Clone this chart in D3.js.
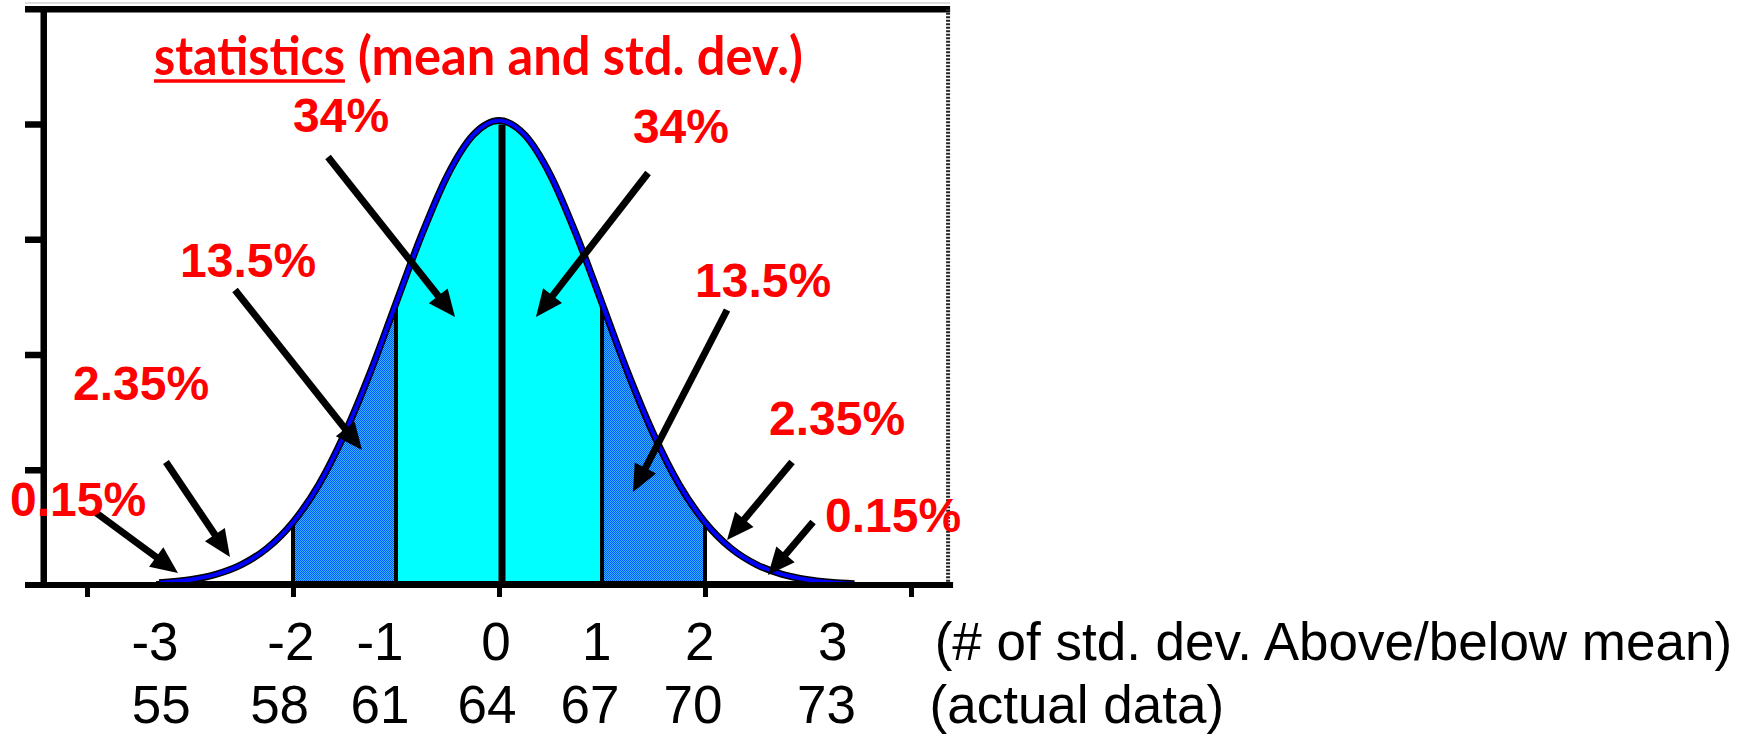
<!DOCTYPE html>
<html>
<head>
<meta charset="utf-8">
<script src="https://cdn.jsdelivr.net/npm/d3@7"></script>
<style>
	body { margin: 0; background: #fff; }
	svg { display: block; }
</style>
</head>
<body>
<div id="chart"></div>
<script>
(function () {
	// curve: x in std. dev. units, y = density
	let curveZ = [-3.3, -3, -2.75, -2.5, -2.25, -2, -1.75, -1.5, -1.25, -1, -0.75, -0.5, -0.25, 0,
		0.25, 0.5, 0.75, 1, 1.25, 1.5, 1.75, 2, 2.25, 2.5, 2.75, 3, 3.45];
	let curveDensity = [0.002, 0.0045, 0.0092, 0.0177, 0.032, 0.0545, 0.087, 0.131, 0.1845, 0.2445, 0.304, 0.3555, 0.3905, 0.403,
		0.3905, 0.3555, 0.304, 0.2445, 0.1845, 0.131, 0.087, 0.0545, 0.032, 0.0177, 0.0092, 0.0045, 0.001];

	let bandEdges = [-2, -1, 1, 2];
	let sdTicks = [-4, -2, 0, 2, 4];
	let densityTicks = [0.1, 0.2, 0.3, 0.4];

	let sdLabels = ["-3", "-2", "-1", "0", "1", "2", "3"];
	let dataLabels = ["55", "58", "61", "64", "67", "70", "73"];
	let pctLabels = ["34%", "34%", "13.5%", "13.5%", "2.35%", "2.35%", "0.15%", "0.15%"];
	let titleMain = "statistics";
	let titleRest = "(mean and std. dev.)";
	let sdAxisTitle = "(# of std. dev. Above/below mean)";
	let dataAxisTitle = "(actual data)";

	// annotation layout, in chart units (z, density)
	let layout = {};
	layout.sdLabelX = [-3.34, -2.02, -1.155, -0.03, 0.95, 1.95, 3.24];
	layout.dataLabelX = [-3.28, -2.13, -1.155, -0.117, 0.883, 1.883, 3.18];
	layout.pctPos = [[-2.0, 0.393], [1.30, 0.3835], [-3.097, 0.267], [1.903, 0.250],
		[-4.136, 0.1605], [2.621, 0.130], [-4.748, 0.0599], [3.165, 0.046]];
	layout.arrows = [
		[[-1.66, 0.3714], [-0.427, 0.2325]],
		[[1.447, 0.3575], [0.359, 0.2325]],
		[[-2.563, 0.256], [-1.33, 0.1171]],
		[[2.214, 0.2386], [1.301, 0.0807]],
		[[-3.233, 0.1067], [-2.612, 0.0243]],
		[[2.845, 0.1067], [2.214, 0.039]],
		[[-3.922, 0.0633], [-3.117, 0.0104]],
		[[3.049, 0.0547], [2.612, 0.0087]]
	];

	let W = 1754, H = 734;
	let svg = d3.select("#chart").append("svg").attr("width", W).attr("height", H);
	svg.append("rect").attr("width", W).attr("height", H).attr("fill", "#fff");

	let x = d3.scaleLinear().domain([-4, 4]).range([87, 911]);
	let y = d3.scaleLinear().domain([0, 0.4]).range([585, 124]);
	let frameL = x(-4.42), frameR = x(4.36), frameT = y(0.4995), base = y(0);

	let defs = svg.append("defs");
	let pat = defs.append("pattern").attr("id", "dots")
		.attr("width", 2).attr("height", 2).attr("patternUnits", "userSpaceOnUse");
	pat.append("rect").attr("width", 2).attr("height", 2).attr("fill", "#35b4ff");
	pat.append("rect").attr("x", 0).attr("y", 0).attr("width", 1).attr("height", 1).attr("fill", "#0058ff");
	pat.append("rect").attr("x", 1).attr("y", 1).attr("width", 1).attr("height", 1).attr("fill", "#0058ff");

	let pts = curveZ.map(function (z, i) { return { z: z, d: curveDensity[i] }; });

	let area = d3.area().curve(d3.curveMonotoneX)
		.x(function (p) { return x(p.z); })
		.y0(base)
		.y1(function (p) { return y(p.d); });
	let line = d3.line().curve(d3.curveMonotoneX)
		.x(function (p) { return x(p.z); })
		.y(function (p) { return y(p.d); });

	function inRange(a, b) {
		return pts.filter(function (p) { return p.z >= a - 1e-9 && p.z <= b + 1e-9; });
	}

	svg.append("path").attr("d", area(inRange(-2, -1))).attr("fill", "url(#dots)");
	svg.append("path").attr("d", area(inRange(1, 2))).attr("fill", "url(#dots)");
	svg.append("path").attr("d", area(inRange(-1, 1))).attr("fill", "#00ffff");

	// band edges
	svg.selectAll(".edge").data(bandEdges).enter().append("line")
		.attr("class", "edge")
		.attr("x1", function (z) { return x(z); })
		.attr("x2", function (z) { return x(z); })
		.attr("y1", base)
		.attr("y2", function (z) { return y(curveDensity[curveZ.indexOf(z)]); })
		.attr("stroke", "#000").attr("stroke-width", 4);

	svg.append("line")
		.attr("x1", x(0) + 3).attr("x2", x(0) + 3)
		.attr("y1", base).attr("y2", y(curveDensity[curveZ.indexOf(0)]) + 4)
		.attr("stroke", "#000").attr("stroke-width", 7);

	// flat tail along the baseline
	svg.append("line")
		.attr("x1", x(curveZ[0]) - 3).attr("x2", x(curveZ[curveZ.length - 1]))
		.attr("y1", base - 2).attr("y2", base - 2)
		.attr("stroke", "#000").attr("stroke-width", 4);

	svg.append("path").attr("d", line(pts)).attr("fill", "none")
		.attr("stroke", "#000").attr("stroke-width", 7).attr("stroke-linejoin", "round");
	svg.append("path").attr("d", line(pts)).attr("fill", "none")
		.attr("stroke", "#0000ff").attr("stroke-width", 4).attr("stroke-linejoin", "round");

	// frame
	svg.append("line").attr("x1", 25).attr("x2", frameR + 2)
		.attr("y1", 3).attr("y2", 3).attr("stroke", "#ddd").attr("stroke-width", 2);
	svg.append("line").attr("x1", 25).attr("x2", frameR + 2)
		.attr("y1", frameT).attr("y2", frameT).attr("stroke", "#000").attr("stroke-width", 6.5);
	svg.append("line").attr("x1", frameR).attr("x2", frameR)
		.attr("y1", frameT).attr("y2", base)
		.attr("stroke", "#222").attr("stroke-width", 4).attr("stroke-dasharray", "2,1.5");
	svg.append("line").attr("x1", frameL).attr("x2", frameL)
		.attr("y1", frameT - 3).attr("y2", base + 3).attr("stroke", "#000").attr("stroke-width", 6.5);
	svg.append("line").attr("x1", 25).attr("x2", frameR + 5)
		.attr("y1", base).attr("y2", base).attr("stroke", "#000").attr("stroke-width", 6);

	let yAxis = svg.append("g")
		.attr("transform", "translate(" + frameL + ",0)")
		.call(d3.axisLeft(y).tickValues(densityTicks).tickSize(frameL - 25).tickFormat(""));
	yAxis.select(".domain").remove();
	yAxis.selectAll("line").attr("stroke", "#000").attr("stroke-width", 6.5);

	let xAxis = svg.append("g")
		.attr("transform", "translate(0," + base + ")")
		.call(d3.axisBottom(x).tickValues(sdTicks).tickSize(12).tickFormat(""));
	xAxis.select(".domain").remove();
	xAxis.selectAll("line").attr("stroke", "#000").attr("stroke-width", 5);

	// arrows
	function drawArrow(a) {
		let x1 = x(a[0][0]), y1 = y(a[0][1]), x2 = x(a[1][0]), y2 = y(a[1][1]);
		let dx = x2 - x1, dy = y2 - y1, len = Math.sqrt(dx * dx + dy * dy);
		let ux = dx / len, uy = dy / len;
		let headLen = 27, headHalf = 12;
		let bx = x2 - ux * headLen, by = y2 - uy * headLen;
		svg.append("line")
			.attr("x1", x1).attr("y1", y1).attr("x2", bx + ux * 2).attr("y2", by + uy * 2)
			.attr("stroke", "#000").attr("stroke-width", 7);
		svg.append("polygon")
			.attr("points", [
				[x2, y2],
				[bx - uy * headHalf, by + ux * headHalf],
				[bx + uy * headHalf, by - ux * headHalf]
			].map(function (p) { return p.join(","); }).join(" "))
			.attr("fill", "#000");
	}
	for (let a of layout.arrows) {
		drawArrow(a);
	}

	// percent labels
	svg.selectAll(".pct").data(pctLabels).enter().append("text")
		.attr("class", "pct")
		.attr("x", function (d, i) { return x(layout.pctPos[i][0]); })
		.attr("y", function (d, i) { return y(layout.pctPos[i][1]); })
		.attr("font-family", "'Liberation Sans', Arial, sans-serif")
		.attr("font-weight", "bold")
		.attr("font-size", 48)
		.attr("fill", "#ff0000")
		.text(function (d) { return d; });

	// title
	let titleY = y(0.4425);
	svg.append("text")
		.attr("x", x(-3.35)).attr("y", titleY)
		.attr("font-family", "Lato, 'Open Sans', sans-serif")
		.attr("font-weight", "bold").attr("font-size", 53)
		.attr("fill", "#ff0000")
		.attr("textLength", 191).attr("lengthAdjust", "spacingAndGlyphs")
		.text(titleMain);
	svg.append("line")
		.attr("x1", x(-3.35)).attr("x2", x(-3.35) + 191)
		.attr("y1", titleY + 6).attr("y2", titleY + 6)
		.attr("stroke", "#ff0000").attr("stroke-width", 3.5);
	svg.append("text")
		.attr("x", x(-1.37)).attr("y", titleY)
		.attr("font-family", "Lato, 'Open Sans', sans-serif")
		.attr("font-weight", "bold").attr("font-size", 53)
		.attr("fill", "#ff0000")
		.attr("textLength", 445).attr("lengthAdjust", "spacingAndGlyphs")
		.text(titleRest);

	// bottom labels
	let row1 = 660, row2 = 723;
	let labelFont = "'Liberation Sans', Arial, sans-serif";
	svg.selectAll(".sdLab").data(sdLabels).enter().append("text")
		.attr("class", "sdLab")
		.attr("x", function (d, i) { return x(layout.sdLabelX[i]); })
		.attr("y", row1)
		.attr("text-anchor", "middle")
		.attr("font-family", labelFont).attr("font-size", 53).attr("fill", "#000")
		.text(function (d) { return d; });
	svg.selectAll(".dataLab").data(dataLabels).enter().append("text")
		.attr("class", "dataLab")
		.attr("x", function (d, i) { return x(layout.dataLabelX[i]); })
		.attr("y", row2)
		.attr("text-anchor", "middle")
		.attr("font-family", labelFont).attr("font-size", 53).attr("fill", "#000")
		.text(function (d) { return d; });

	svg.append("text")
		.attr("x", x(4.23)).attr("y", row1)
		.attr("font-family", labelFont).attr("font-size", 53).attr("fill", "#000")
		.text(sdAxisTitle);
	svg.append("text")
		.attr("x", x(4.18)).attr("y", row2)
		.attr("font-family", labelFont).attr("font-size", 53).attr("fill", "#000")
		.text(dataAxisTitle);
})();
</script>
</body>
</html>
